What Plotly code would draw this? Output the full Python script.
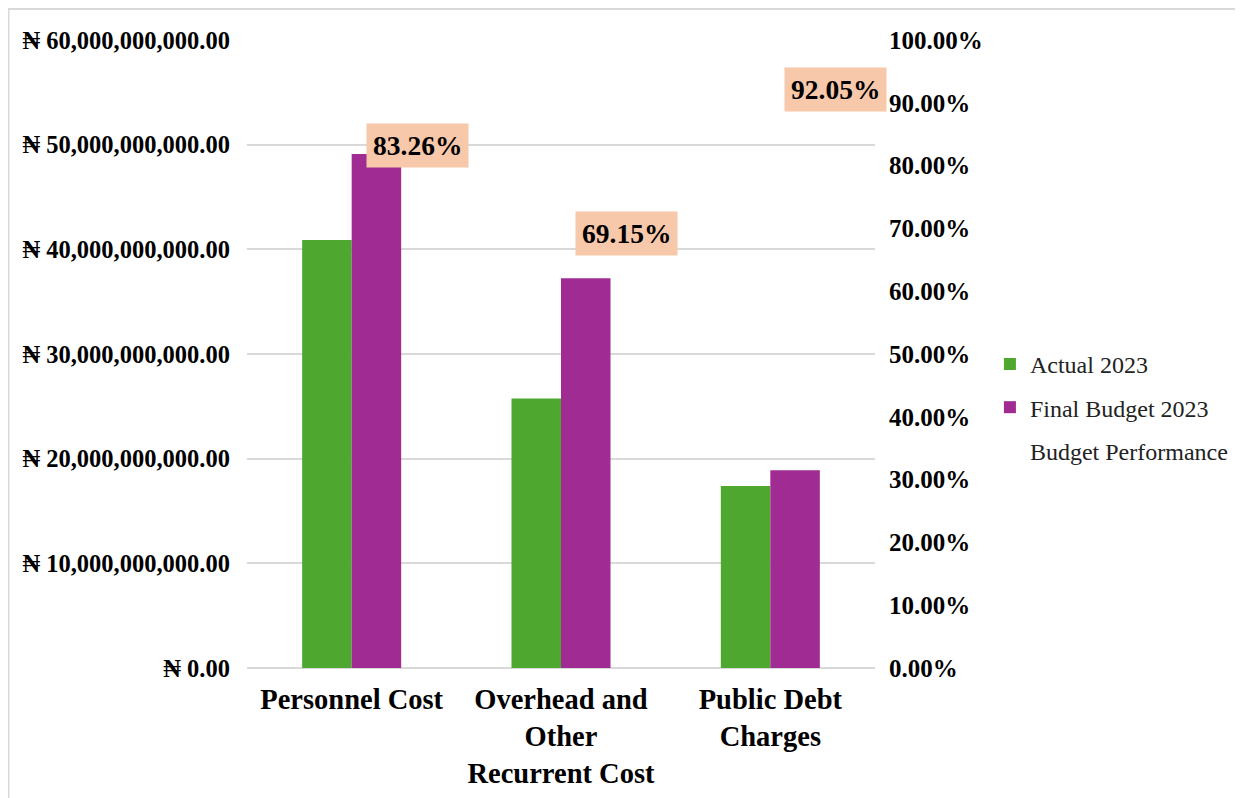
import plotly.graph_objects as go

categories = ["Personnel Cost", "Overhead and<br>Other<br>Recurrent Cost", "Public Debt<br>Charges"]
actual_2023 = [40.88e9, 25.75e9, 17.39e9]
final_budget_2023 = [49.10e9, 37.24e9, 18.89e9]
budget_performance = [0.8326, 0.6915, 0.9205]
perf_labels = ["83.26%", "69.15%", "92.05%"]

SERIF = "Liberation Serif, Times New Roman, DejaVu Serif, serif"

fig = go.Figure()
fig.add_trace(go.Bar(x=categories, y=actual_2023, name="Actual 2023", legendgroup="a",
                     marker=dict(color="#4EA72E", line=dict(width=0))))
fig.add_trace(go.Bar(x=categories, y=final_budget_2023, name="Final Budget 2023", legendgroup="b",
                     marker=dict(color="#A02B93", line=dict(width=0))))
fig.add_trace(go.Scatter(x=categories, y=budget_performance, name="Budget Performance",
                         legendgroup="c",
                         mode="lines", line=dict(width=0, color="rgba(0,0,0,0)"),
                         yaxis="y2", hoverinfo="skip"))

for c, v, t in zip(categories, budget_performance, perf_labels):
    fig.add_annotation(x=c, y=v, xref="x", yref="y2", text=t, showarrow=False,
                       xanchor="left", yanchor="middle", xshift=14,
                       bgcolor="#F8C8AA", borderpad=6,
                       font=dict(family=SERIF, size=27.5, color="black", weight="bold"))

fig.update_layout(
    width=1243, height=798,
    margin=dict(l=239, r=376, t=32, b=138),
    paper_bgcolor="white", plot_bgcolor="white",
    barmode="group", bargap=0.527, bargroupgap=0,
    font=dict(family=SERIF, color="black"),
    xaxis=dict(range=[-0.5, 2.5], autorange=False,
               showgrid=False, showline=False, ticks="",
               tickfont=dict(family=SERIF, size=28.5, weight="bold", color="black"),
               ticklabelstandoff=11),
    yaxis=dict(range=[0, 60e9], autorange=False, dtick=10e9, tickprefix="₦ ", tickformat=",.2f",
               showgrid=True, gridcolor="#D9D9D9", gridwidth=2,
               zeroline=True, zerolinecolor="#D9D9D9", zerolinewidth=2,
               showline=False, ticks="", ticklabelstandoff=16,
               tickfont=dict(family=SERIF, size=24.5, weight="bold", color="black")),
    yaxis2=dict(range=[0, 1], autorange=False, dtick=0.1, tickformat=".2%", overlaying="y", side="right",
                showgrid=False, zeroline=False, showline=False, ticks="",
                ticklabelstandoff=13,
                tickfont=dict(family=SERIF, size=25, weight="bold", color="black")),
    legend=dict(x=1.183, y=0.415, xanchor="left", yanchor="middle",
                font=dict(family=SERIF, size=24, color="#222222"),
                bgcolor="rgba(0,0,0,0)", itemwidth=30,
                traceorder="grouped", tracegroupgap=9),
    showlegend=True,
)

fig.add_shape(type="rect", xref="paper", yref="paper",
              x0=-0.3798, x1=2.0, y0=-1.0, y1=1.0494,
              line=dict(color="#D9D9D9", width=2), fillcolor="rgba(0,0,0,0)", layer="below")

fig.write_html("out.html")
